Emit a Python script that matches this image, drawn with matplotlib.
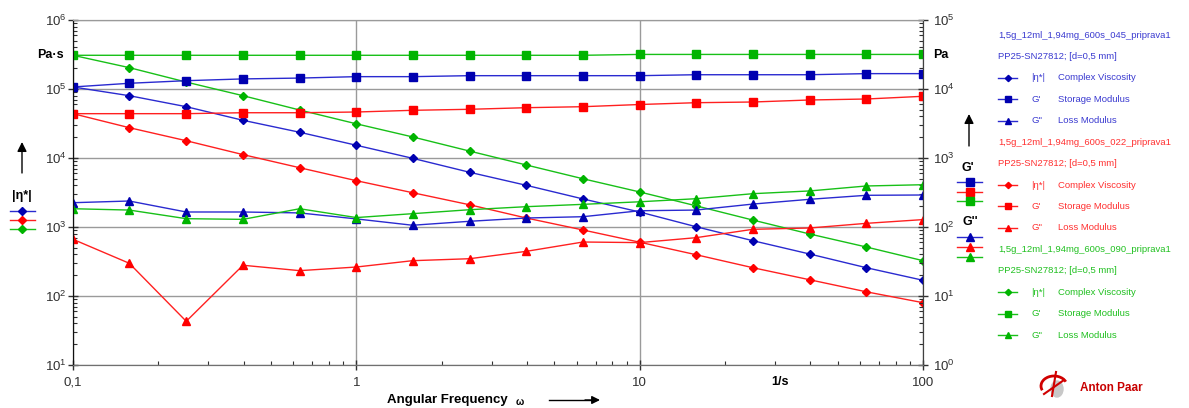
import matplotlib.pyplot as plt
from matplotlib.lines import Line2D
from matplotlib.patches import Arc, Ellipse
from matplotlib.ticker import FixedLocator, LogLocator, NullFormatter

plt.rcParams['font.family'] = ['Liberation Sans', 'DejaVu Sans']

W, H = 1189, 408

# angular frequency, 1/s
freq = [0.1, 0.158, 0.251, 0.398, 0.631, 1, 1.58, 2.51, 3.98, 6.31,
        10, 15.8, 25.1, 39.8, 63.1, 100]

# 045 sample (blue)
eta_045 = [1.07e5, 8.0e4, 5.54e4, 3.52e4, 2.36e4, 1.53e4, 9.9e3, 6.21e3,
           4.02e3, 2.55e3, 1.65e3, 1.01e3, 633, 406, 257, 169]
gp_045 = [1.07e4, 1.21e4, 1.32e4, 1.40e4, 1.44e4, 1.51e4, 1.51e4, 1.56e4,
          1.56e4, 1.56e4, 1.56e4, 1.61e4, 1.61e4, 1.61e4, 1.67e4, 1.67e4]
gpp_045 = [225, 238, 165, 165, 160, 131, 106, 121, 135, 141, 172, 176,
           215, 252, 288, 291]

# 022 sample (red)
eta_022 = [4.39e4, 2.75e4, 1.78e4, 1.12e4, 7.23e3, 4.69e3, 3.14e3, 2.1e3,
           1.35e3, 905, 602, 397, 257, 172, 115, 80]
gp_022 = [4.39e3, 4.39e3, 4.39e3, 4.53e3, 4.53e3, 4.64e3, 4.91e3, 5.08e3,
          5.36e3, 5.54e3, 5.96e3, 6.33e3, 6.48e3, 6.93e3, 7.16e3, 7.84e3]
gpp_022 = [66.3, 29.8, 4.3, 27.9, 23.3, 26.3, 32.5, 34.7, 44.4, 60.6, 59.4,
           70, 92.6, 96.7, 113, 128]

# 090 sample (green)
eta_090 = [3.08e5, 2.04e5, 1.26e5, 8.0e4, 4.96e4, 3.13e4, 2.02e4, 1.26e4,
           7.92e3, 5.0e3, 3.22e3, 2.03e3, 1.26e3, 792, 513, 325]
gp_090 = [3.08e4, 3.08e4, 3.08e4, 3.08e4, 3.08e4, 3.08e4, 3.08e4, 3.08e4,
          3.08e4, 3.08e4, 3.17e4, 3.17e4, 3.17e4, 3.17e4, 3.17e4, 3.17e4]
gpp_090 = [184, 176, 132, 129, 184, 137, 156, 178, 197, 213, 232, 257,
           304, 333, 393, 410]

names = ['1,5g_12ml_1,94mg_600s_045_priprava1',
         '1,5g_12ml_1,94mg_600s_022_priprava1',
         '1,5g_12ml_1,94mg_600s_090_priprava1']
line_cols = ['#2a2ad0', '#ff2020', '#18c018']
mark_cols = ['#0000b0', '#ff0000', '#00b400']
text_cols = ['#3a3ad0', '#ff3030', '#20c020']

series = [(eta_045, gp_045, gpp_045), (eta_022, gp_022, gpp_022),
          (eta_090, gp_090, gpp_090)]


def fx(px):
    return px / W


def fy(py):
    return 1 - py / H


fig = plt.figure(figsize=(W / 100, H / 100), dpi=100)
ax = fig.add_axes([fx(73), fy(365), (923 - 73) / W, (365 - 20) / H])
ax2 = ax.twinx()

ax.set_xscale('log')
ax.set_yscale('log')
ax2.set_yscale('log')
ax.set_xlim(0.1, 100)
ax.set_ylim(10, 1e6)
ax2.set_ylim(1, 1e5)

for (eta, gp, gpp), lc, mc in zip(series, line_cols, mark_cols):
    ax.plot(freq, eta, color=lc, lw=1, marker='D', ms=3.6, mfc=mc, mec=mc)
    ax2.plot(freq, gp, color=lc, lw=1, marker='s', ms=5.5, mfc=mc, mec=mc)
    ax2.plot(freq, gpp, color=lc, lw=1, marker='^', ms=5.5, mfc=mc, mec=mc)

# grid
ax.set_axisbelow(True)
ax.xaxis.set_major_locator(FixedLocator([0.1, 1, 10, 100]))
ax.xaxis.set_minor_locator(LogLocator(base=10, subs=range(2, 10)))
ax.xaxis.set_minor_formatter(NullFormatter())
ax.set_xticklabels(['0,1', '1', '10', '100'])
ax.grid(True, which='major', color='#9a9a9a', lw=1)

ax.yaxis.set_major_locator(FixedLocator([10, 1e2, 1e3, 1e4, 1e5, 1e6]))
ax.set_yticklabels([r'$\mathregular{10^{%d}}$' % i for i in range(1, 7)])
ax.yaxis.set_minor_locator(LogLocator(base=10, subs=range(2, 10)))
ax.yaxis.set_minor_formatter(NullFormatter())
ax2.yaxis.set_major_locator(FixedLocator([1, 10, 1e2, 1e3, 1e4, 1e5]))
ax2.set_yticklabels([r'$\mathregular{10^{%d}}$' % i for i in range(0, 6)])
ax2.yaxis.set_minor_locator(LogLocator(base=10, subs=range(2, 10)))
ax2.yaxis.set_minor_formatter(NullFormatter())

for a in (ax, ax2):
    a.tick_params(which='major', direction='inout', length=7, width=1,
                  labelsize=9.5, labelcolor='#303030', color='#303030')
    a.tick_params(which='minor', direction='in', length=3, width=0.8,
                  color='#303030')
ax.tick_params(axis='y', pad=1)
ax.tick_params(axis='x', pad=5)
ax2.tick_params(axis='y', pad=4)

for a in (ax, ax2):
    a.spines['top'].set_color('#9a9a9a')
    a.spines['bottom'].set_color('#707070')
    a.spines['left'].set_color('#101010')
    a.spines['right'].set_color('#404040')

# axis unit labels
fig.text(fx(37), fy(55), 'Pa·s', fontsize=9, fontweight='bold', va='center')
fig.text(fx(933), fy(55), 'Pa', fontsize=9, fontweight='bold', va='center')
fig.text(fx(780), fy(382), '1/s', fontsize=9, fontweight='bold',
         ha='center', va='center')
fig.text(fx(387), fy(400), 'Angular Frequency', fontsize=9.5,
         fontweight='bold', va='center')
fig.text(fx(516), fy(402), 'ω', fontsize=7, fontweight='bold', va='center')
fig.add_artist(Line2D([fx(549), fx(596)], [fy(400), fy(400)],
                      transform=fig.transFigure, color='black', lw=1))
ax.annotate('', xy=(fx(600), fy(400)), xytext=(fx(585), fy(400)),
            xycoords='figure fraction', textcoords='figure fraction',
            arrowprops=dict(arrowstyle='-|>', color='black', lw=1,
                            mutation_scale=12, shrinkA=0, shrinkB=0))


def up_arrow(x, y0, y1):
    ax.annotate('', xy=(fx(x), fy(y1)), xytext=(fx(x), fy(y0)),
                xycoords='figure fraction', textcoords='figure fraction',
                arrowprops=dict(arrowstyle='-|>', color='black', lw=1,
                                mutation_scale=14, shrinkA=0, shrinkB=0))


def sample(x0, x1, y, col, mcol, marker, ms):
    xm = (x0 + x1) / 2
    fig.add_artist(Line2D([fx(x0), fx(xm), fx(x1)], [fy(y)] * 3,
                          transform=fig.transFigure, color=col, lw=1,
                          marker=marker, ms=ms, mfc=mcol, mec=mcol,
                          markevery=[1]))


# left side key for |eta*|
up_arrow(22, 173, 142)
fig.text(fx(22), fy(196), '|η*|', fontsize=9, fontweight='bold',
         ha='center', va='center')
for i in range(3):
    sample(10, 35, 211 + 9 * i, line_cols[i], mark_cols[i], 'D', 3.6)

# right side key for G' and G''
up_arrow(969, 146, 114)
fig.text(fx(968), fy(168), "G'", fontsize=9, fontweight='bold',
         ha='center', va='center')
for i in range(3):
    sample(957, 982, 182 + 9.5 * i, line_cols[i], mark_cols[i], 's', 5.5)
fig.text(fx(970), fy(222), "G''", fontsize=9, fontweight='bold',
         ha='center', va='center')
for i in range(3):
    sample(957, 982, 237 + 10 * i, line_cols[i], mark_cols[i], '^', 5.5)

# legend on the far right
rows = []
for i in range(3):
    rows.append(('title', i, names[i]))
    rows.append(('title', i, 'PP25-SN27812; [d=0,5 mm]'))
    rows.append(('D', i, ('|η*|', 'Complex Viscosity')))
    rows.append(('s', i, ("G'", 'Storage Modulus')))
    rows.append(('^', i, ("G''", 'Loss Modulus')))

for k, (kind, i, txt) in enumerate(rows):
    y = 35 + 21.43 * k
    if kind == 'title':
        fig.text(fx(998), fy(y), txt, fontsize=6.8, color=text_cols[i],
                 va='center')
    else:
        ms = 3.2 if kind == 'D' else 4.8
        sample(998, 1017, y, line_cols[i], mark_cols[i], kind, ms)
        fig.text(fx(1031), fy(y), txt[0], fontsize=6.8, color=text_cols[i],
                 va='center')
        fig.text(fx(1058), fy(y), txt[1], fontsize=6.8, color=text_cols[i],
                 va='center')

# Anton Paar logo
lax = fig.add_axes([fx(1038), fy(400), 36 / W, 30 / H])
lax.set_xlim(0, 36)
lax.set_ylim(0, 30)
lax.set_aspect('equal')
lax.axis('off')
lax.add_patch(Ellipse((19, 11), 12, 16, color='#c8c8c8'))
lax.add_patch(Arc((16, 14), 26, 20, theta1=20, theta2=200, color='#d00000',
                  lw=2))
lax.plot([6, 26], [6, 20], color='#d00000', lw=1.5)
lax.plot([14, 18], [4, 28], color='#d00000', lw=1.5)
fig.text(fx(1080), fy(388), 'Anton Paar', fontsize=8.5, fontweight='bold',
         color='#c80000', va='center')

fig.savefig('out.png', dpi=100)
